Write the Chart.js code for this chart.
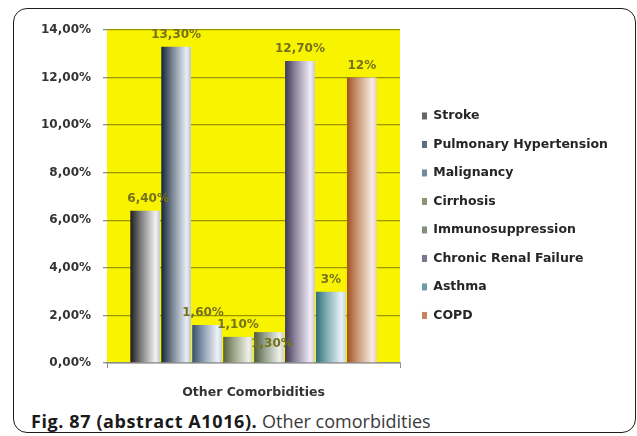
<!DOCTYPE html>
<html>
<head>
<meta charset="utf-8">
<script src="https://cdn.jsdelivr.net/npm/chart.js@4.4.1/dist/chart.umd.min.js"></script>
<style>
    body { margin: 0; width: 637px; height: 436px; background: #fff; position: relative; overflow: hidden; }
    .frame { position: absolute; left: 13px; top: 8px; width: 623px; height: 425px; box-sizing: border-box;
        border: 1.5px solid #1d1d1d; border-radius: 14px; }
    .plot { position: absolute; left: 0; top: 0; width: 637px; height: 405px; }
    .caption { position: absolute; left: 31px; top: 411px; font-family: "Open Sans", sans-serif;
        font-size: 18px; line-height: 20px; color: #3a3a3a; white-space: nowrap; }
    .caption b { color: #1a1a1a; letter-spacing: 0.6px; }
</style>
</head>
<body>
<div class="frame"></div>
<div class="plot"><canvas id="chart" width="637" height="405"></canvas></div>
<div class="caption"><b>Fig. 87 (abstract A1016).</b> Other comorbidities</div>
<script>
// Data
const categories = ['Other Comorbidities'];
const comorbidities = ['Stroke', 'Pulmonary Hypertension', 'Malignancy', 'Cirrhosis',
    'Immunosuppression', 'Chronic Renal Failure', 'Asthma', 'COPD'];
const rates = [6.4, 13.3, 1.6, 1.1, 1.3, 12.7, 3, 12];
const rateLabels = ['6,40%', '13,30%', '1,60%', '1,10%', '1,30%', '12,70%', '3%', '12%'];
const yTicks = [0, 2, 4, 6, 8, 10, 12, 14];

// Bar shading: dark edge on the left, pale on the right
const shades = [
    ['#1c1c1c', '#f2f2f2'],
    ['#15263a', '#e6edf5'],
    ['#34506e', '#eef2f8'],
    ['#55633a', '#eef0e6'],
    ['#4b5a3c', '#eef0ea'],
    ['#3f3458', '#f0ecf6'],
    ['#2a6f7a', '#e6f2f6'],
    ['#a3501c', '#f8ebe2']
];

function mix(a, b, t) {
    const pa = [1, 3, 5].map(i => parseInt(a.substr(i, 2), 16));
    const pb = [1, 3, 5].map(i => parseInt(b.substr(i, 2), 16));
    return 'rgb(' + pa.map((v, i) => Math.round(v + (pb[i] - v) * t)).join(',') + ')';
}

function barFill(i) {
    return function(ctx) {
        const el = ctx.element;
        const [dark, light] = shades[i];
        if (!el || el.width === undefined || isNaN(el.x)) return mix(dark, light, 0.35);
        const left = el.x - el.width / 2;
        const g = ctx.chart.ctx.createLinearGradient(left, 0, left + el.width, 0);
        g.addColorStop(0, dark);
        g.addColorStop(0.35, mix(dark, light, 0.45));
        g.addColorStop(0.85, light);
        g.addColorStop(1, mix(dark, light, 0.8));
        return g;
    };
}

const plotBackground = {
    id: 'plotBackground',
    beforeDraw(chart) {
        const a = chart.chartArea;
        const c = chart.ctx;
        c.save();
        c.fillStyle = '#f8f400';
        c.fillRect(a.left, a.top, a.right - a.left, a.bottom - a.top);
        c.restore();
    }
};

// nudges for labels that sit off-centre in the original
const labelNudge = { 0: [3, 0], 2: [-4, 0], 4: [3, 24] };

const valueLabels = {
    id: 'valueLabels',
    afterDatasetsDraw(chart) {
        const c = chart.ctx;
        c.save();
        c.font = 'bold 12px "DejaVu Sans"';
        c.fillStyle = '#76711c';
        c.textAlign = 'center';
        c.textBaseline = 'middle';
        chart.data.datasets.forEach((ds, i) => {
            const el = chart.getDatasetMeta(i).data[0];
            const n = labelNudge[i] || [0, 0];
            c.fillText(rateLabels[i], el.x + n[0], el.y - 12 + n[1]);
        });
        c.restore();
    }
};

// fixed legend width and a small sideways shift so the legend sits where it does in the figure
const legendPlacement = {
    id: 'legendPlacement',
    afterInit(chart) {
        const legend = chart.legend;
        const fit = legend.fit.bind(legend);
        legend.fit = function() {
            fit();
            this.width = 237;
        };
    },
    afterLayout(chart) {
        chart.legend.left += 6;
        chart.legend.right += 6;
    }
};

const chart = new Chart(document.getElementById('chart'), {
    type: 'bar',
    data: {
        labels: categories,
        datasets: comorbidities.map((name, i) => ({
            label: name,
            data: [rates[i]],
            backgroundColor: barFill(i),
            borderWidth: 0,
            categoryPercentage: 0.845,
            barPercentage: 0.96
        }))
    },
    options: {
        responsive: false,
        animation: false,
        layout: { padding: { left: 14, top: 30, right: 0, bottom: 0 } },
        scales: {
            x: {
                grid: { drawOnChartArea: false, tickLength: 5, color: '#8c8c8c' },
                border: { display: true, color: '#8c8c8c', width: 1.5 },
                ticks: { padding: 17, color: '#333', font: { family: 'DejaVu Sans', size: 12.5, weight: 'bold' } },
                afterFit: s => { s.height = 42; }
            },
            y: {
                min: 0,
                max: 14,
                afterBuildTicks: s => { s.ticks = yTicks.map(v => ({ value: v })); },
                grid: {
                    color: ctx => ctx.tick && ctx.tick.value === 0 ? '#8c8c8c' : '#9c9400',
                    lineWidth: 1.3,
                    tickLength: 4,
                    tickColor: '#8c8c8c'
                },
                border: { display: false },
                ticks: {
                    padding: 12,
                    color: '#333',
                    font: { family: 'DejaVu Sans', size: 12, weight: 'bold' },
                    callback: v => v.toFixed(2).replace('.', ',') + '%'
                },
                afterFit: s => { s.width = 93; }
            }
        },
        plugins: {
            legend: {
                position: 'right',
                align: 'start',
                title: { display: true, text: ' ', font: { size: 12 }, padding: { top: 49.3, bottom: 0 } },
                labels: {
                    boxWidth: 5,
                    boxHeight: 7,
                    padding: 16,
                    color: '#222',
                    font: { family: 'DejaVu Sans', size: 12.5, weight: 'bold' },
                    generateLabels: ch => ch.data.datasets.map((ds, i) => ({
                        text: ds.label,
                        fillStyle: mix(shades[i][0], shades[i][1], 0.35),
                        strokeStyle: 'transparent',
                        fontColor: '#262626',
                        lineWidth: 0,
                        datasetIndex: i
                    }))
                }
            },
            tooltip: { enabled: false }
        }
    },
    plugins: [plotBackground, valueLabels, legendPlacement]
});
// second pass so the bar gradients know where each bar sits
chart.update();
</script>
</body>
</html>
